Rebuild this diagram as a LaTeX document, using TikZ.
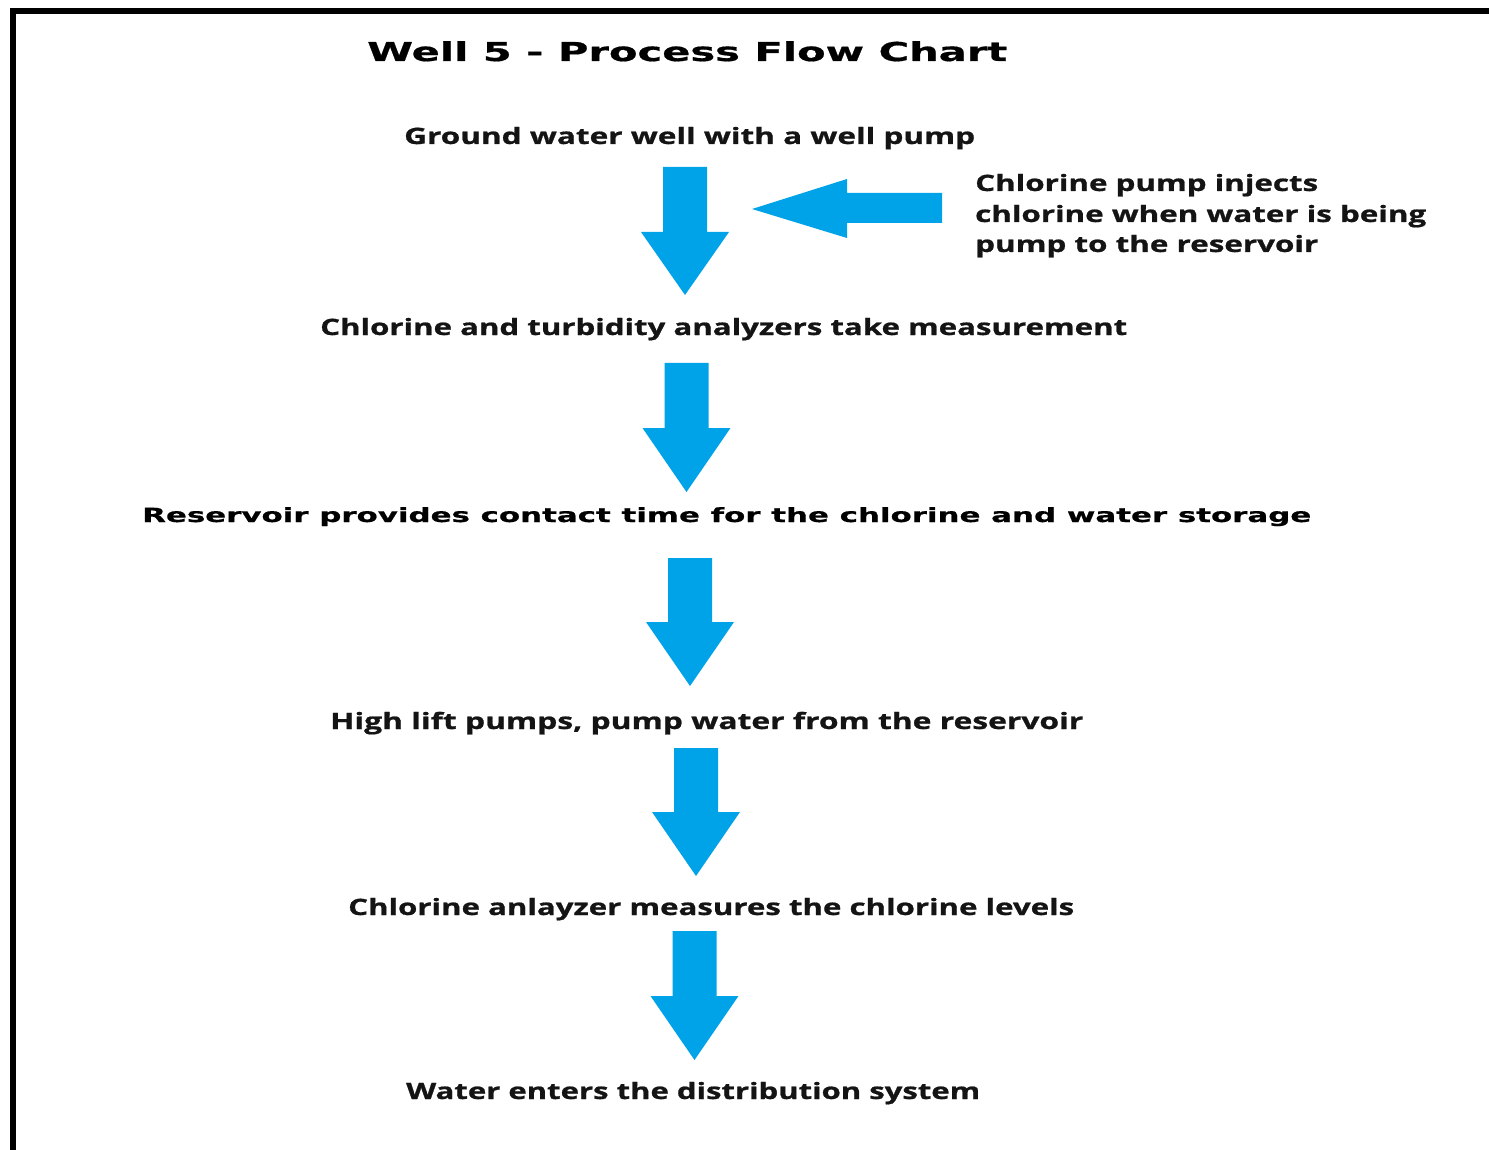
\documentclass[tikz,border=0pt]{standalone}
\usepackage{fontspec}
\usepackage{graphicx}
\setmainfont{Open Sans}[BoldFeatures={FakeBold=0.8}]
\newfontfamily\titlefont{DejaVu Sans}[BoldFeatures={FakeBold=0.6}]
\definecolor{arrowblue}{RGB}{0,162,232}
\definecolor{txtcol}{RGB}{20,20,20}
\newcommand{\fitw}[2]{\resizebox{#1}{\height}{#2}}
% block arrow pointing down: center x, top y, head y, tip y
\newcommand{\blkdown}[4]{%
  \fill[arrowblue] (#1-22,#2) -- (#1+22,#2) -- (#1+22,#3) -- (#1+44,#3) -- (#1,#4)
    -- (#1-44,#3) -- (#1-22,#3) -- cycle;}
\tikzset{
  steptext/.style={anchor=base west, inner sep=0pt, text=txtcol,
    font=\bfseries\fontsize{22.5}{27}\selectfont},
  widetext/.style={anchor=base west, inner sep=0pt, text=black,
    font=\titlefont\bfseries\fontsize{19.5}{23}\selectfont},
  titletext/.style={anchor=base west, inner sep=0pt, text=black,
    font=\titlefont\bfseries\fontsize{26}{30}\selectfont},
  sidetext/.style={anchor=base west, inner sep=0pt, text=txtcol,
    font=\bfseries\fontsize{22.5}{27}\selectfont}
}
\begin{document}
\begin{tikzpicture}[x=1pt,y=-1pt]
\useasboundingbox (0,0) rectangle (1489,1150);
\clip (0,0) rectangle (1489,1150);
\fill[white] (0,0) rectangle (1489,1150);
% frame (cut off at right and bottom)
\draw[line width=6pt] (13,1160) -- (13,11) -- (1500,11);
% title
\node[titletext] (title) at (367,61) {\fitw{640pt}{Well 5 - Process Flow Chart}};
% steps
\node[steptext] (s1) at (404,144) {\fitw{571pt}{Ground water well with a well pump}};
\node[steptext] (s2) at (320,335) {\fitw{807pt}{Chlorine and turbidity analyzers take measurement}};
\node[widetext] (s3) at (142,522) {\fitw{1169pt}{Reservoir provides contact time for the chlorine and water storage}};
\node[steptext] (s4) at (330,729) {\fitw{753pt}{High lift pumps, pump water from the reservoir}};
\node[steptext] (s5) at (348,915) {\fitw{726pt}{Chlorine anlayzer measures the chlorine levels}};
\node[steptext] (s6) at (406,1099) {\fitw{574pt}{Water enters the distribution system}};
% side note
\node[sidetext] (n1) at (975,191) {\fitw{343pt}{Chlorine pump injects}};
\node[sidetext] (n2) at (975,222) {\fitw{451pt}{chlorine when water is being}};
\node[sidetext] (n3) at (975,252) {\fitw{343pt}{pump to the reservoir}};
% block arrows
\blkdown{685}{167}{232}{295}
\blkdown{686.5}{363}{428}{492}
\blkdown{690}{558}{622}{686}
\blkdown{696}{748}{812}{876}
\blkdown{694.5}{931}{996}{1060}
% injection arrow pointing left
\fill[arrowblue] (942,193) -- (942,223) -- (847,223) -- (847,238) -- (752,209)
  -- (847,179) -- (847,193) -- cycle;
\end{tikzpicture}
\end{document}
